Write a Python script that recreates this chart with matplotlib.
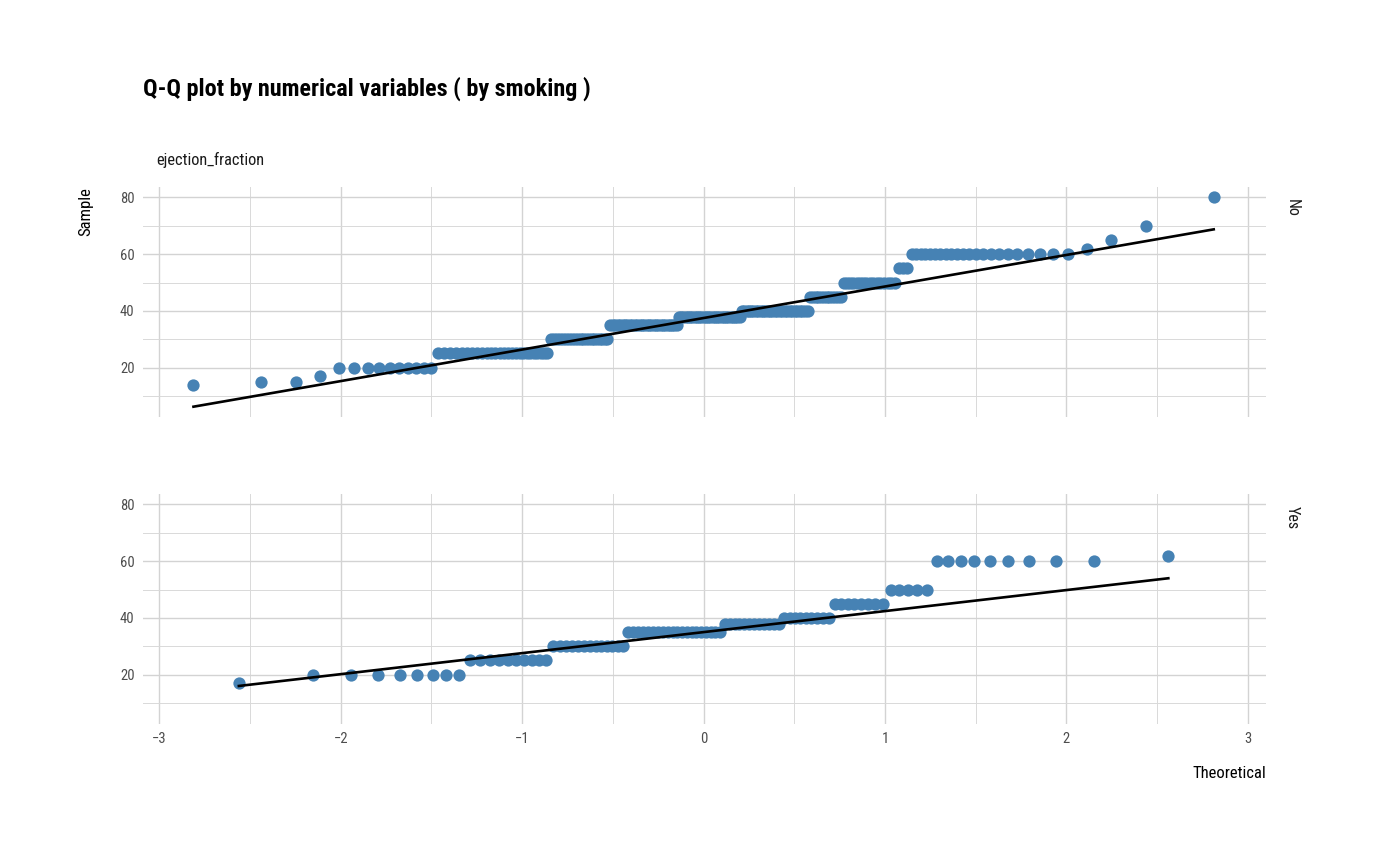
import numpy as np
from statistics import NormalDist
from matplotlib import pyplot as plt
from matplotlib import font_manager
from matplotlib.ticker import MultipleLocator

# ejection_fraction values and their counts per smoking group
no_values = [14, 15, 17, 20, 25, 30, 35, 38, 40, 45, 50, 55, 60, 62, 65, 70, 80]
no_counts = [1, 2, 1, 10, 26, 21, 29, 28, 28, 12, 16, 3, 22, 1, 1, 1, 1]
yes_values = [17, 20, 25, 30, 35, 38, 40, 45, 50, 60, 62]
yes_counts = [1, 8, 10, 13, 20, 12, 9, 8, 5, 9, 1]
groups = ['No', 'Yes']

x_ticks = [-3, -2, -1, 0, 1, 2, 3]
y_ticks = [20, 40, 60, 80]

installed = {f.name for f in font_manager.fontManager.ttflist}
family = 'Roboto Condensed' if 'Roboto Condensed' in installed else 'Roboto'
plt.rcParams['font.family'] = [family, 'DejaVu Sans']


def qq(values, counts):
    sample = np.repeat(values, counts).astype(float)
    n = len(sample)
    probs = (np.arange(1, n + 1) - 0.5) / n
    theo = np.array([NormalDist().inv_cdf(p) for p in probs])
    q25, q75 = np.percentile(sample, [25, 75])
    z25, z75 = NormalDist().inv_cdf(0.25), NormalDist().inv_cdf(0.75)
    slope = (q75 - q25) / (z75 - z25)
    intercept = q25 - slope * z25
    return theo, sample, slope, intercept


fig = plt.figure(figsize=(14, 8.66), dpi=100)
left, width, height = 143 / 1400, 1123 / 1400, 230 / 866
bottoms = [1 - 417 / 866, 1 - 724 / 866]

data = [(no_values, no_counts), (yes_values, yes_counts)]
axes = []
for (vals, cnts), label, bottom in zip(data, groups, bottoms):
    ax = fig.add_axes([left, bottom, width, height])
    theo, sample, slope, intercept = qq(vals, cnts)
    ax.scatter(theo, sample, s=78, color='#4682B4', linewidths=0, zorder=3)
    xs = np.array([theo.min(), theo.max()])
    ax.plot(xs, intercept + slope * xs, color='black', lw=1.9, zorder=4)

    ax.set_xlim(-3.09, 3.1)
    ax.set_ylim(2.6, 83.7)
    ax.set_xticks(x_ticks)
    ax.set_yticks(y_ticks)
    ax.xaxis.set_minor_locator(MultipleLocator(0.5))
    ax.yaxis.set_minor_locator(MultipleLocator(10))
    ax.grid(True, which='major', color='#d3d3d3', lw=1.0)
    ax.grid(True, which='minor', color='#d9d9d9', lw=0.7)
    ax.set_axisbelow(True)
    for s in ax.spines.values():
        s.set_visible(False)
    ax.tick_params(which='both', length=0, labelsize=10.5, labelcolor='#4d4d4d', pad=6)
    ax.text(1.023, 0.95, label, transform=ax.transAxes, rotation=-90,
            ha='center', va='top', fontsize=11.5, color='#1a1a1a')
    axes.append(ax)

axes[0].tick_params(labelbottom=False)

fig.text(143 / 1400, 1 - 89 / 866, 'Q-Q plot by numerical variables ( by smoking )',
         fontsize=17.4, fontweight='bold', ha='left', va='center')
fig.text(156 / 1400, 1 - 160 / 866, 'ejection_fraction', fontsize=11.8,
         ha='left', va='center', color='#1a1a1a')
fig.text(86 / 1400, 1 - 187 / 866, 'Sample', rotation=90, fontsize=12,
         ha='center', va='top')
fig.text(1266 / 1400, 1 - 773 / 866, 'Theoretical', fontsize=12,
         ha='right', va='center')

fig.savefig('out.png', dpi=100, facecolor='white')
